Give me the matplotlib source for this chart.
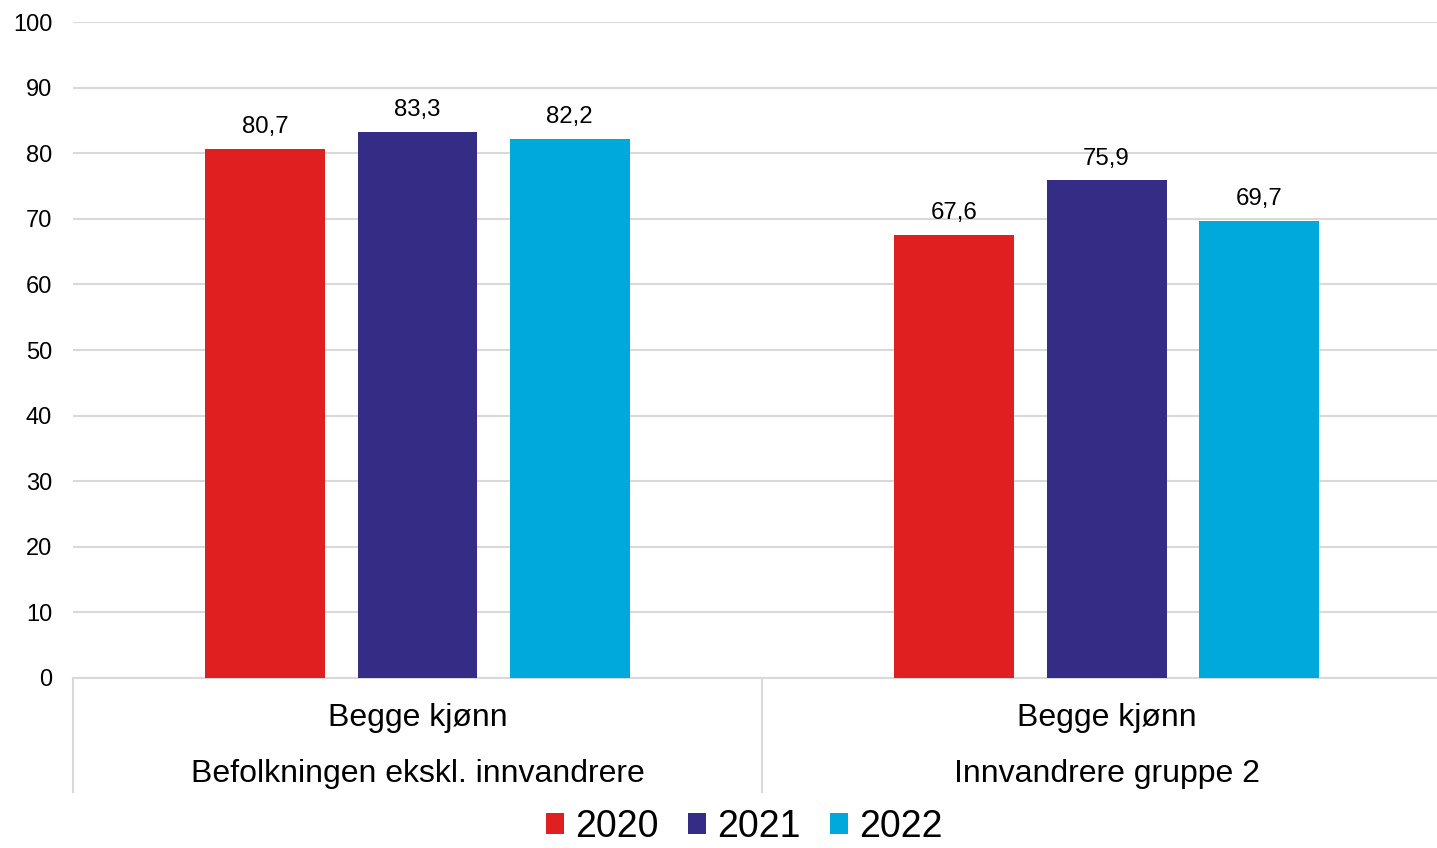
import matplotlib.pyplot as plt
import numpy as np

plt.rcParams['font.family'] = ['Liberation Sans', 'DejaVu Sans']

groups = ['Befolkningen ekskl. innvandrere', 'Innvandrere gruppe 2']
sub_label = 'Begge kjønn'
years = ['2020', '2021', '2022']
values = {
    '2020': [80.7, 67.6],
    '2021': [83.3, 75.9],
    '2022': [82.2, 69.7],
}
colors = ['#e02020', '#352c85', '#00a9db']

fig = plt.figure(figsize=(14.37, 8.48), dpi=100)
# plot area runs slightly past the right edge of the figure, like the original
ax = fig.add_axes([0.0508, 0.2005, 0.959, 0.7735])

x = np.arange(len(groups))
width = 0.174
step = 0.221
for i, (yr, col) in enumerate(zip(years, colors)):
    pos = x + (i - 1) * step
    bars = ax.bar(pos, values[yr], width, color=col, label=yr, zorder=3)
    for b, v in zip(bars, values[yr]):
        ax.text(b.get_x() + b.get_width() / 2, v + 1.6, f'{v:.1f}'.replace('.', ','),
                ha='center', va='bottom', fontsize=17.3)

ax.set_xlim(-0.5, 1.5)
ax.set_ylim(0, 100)
ax.set_yticks(range(0, 101, 10))
ax.yaxis.grid(True, color='#d9d9d9', lw=1.5, zorder=0)
ax.tick_params(axis='y', length=0, labelsize=17, pad=15)
ax.set_xticks([])
for s in ['top', 'right', 'left']:
    ax.spines[s].set_visible(False)
ax.spines['bottom'].set_color('#d9d9d9')
ax.spines['bottom'].set_linewidth(1.5)

# category separators and two-level labels
for xs in [-0.5, 0.5]:
    ax.plot([xs, xs], [0, -17.4], color='#d9d9d9', lw=1.5, clip_on=False)
for xi, g in zip(x, groups):
    ax.text(xi, -6.1, sub_label, ha='center', va='center', fontsize=23)
    ax.text(xi, -14.6, g, ha='center', va='center', fontsize=23)

fig.legend(loc='center', bbox_to_anchor=(0.518, 0.025), ncol=3, frameon=False,
           fontsize=27, handlelength=0.48, handleheight=0.48, handletextpad=0.28,
           columnspacing=0.8, borderaxespad=0)

fig.savefig('out.png', dpi=100)
